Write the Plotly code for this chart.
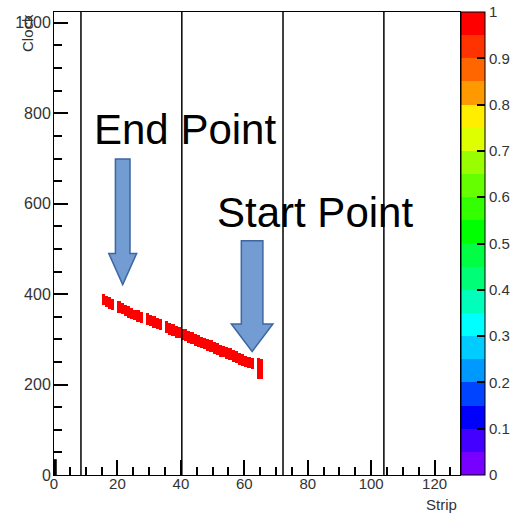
import plotly.graph_objects as go

# ---------------- data ----------------
band_strips = [15, 16, 17, 18, 20, 21, 22, 23, 24, 25, 26, 27, 29, 30, 31, 32, 33,
               35, 36, 37, 38, 39, 40, 41, 42, 43, 44, 45, 46, 47, 48, 49, 50, 51,
               52, 53, 54, 55, 56, 57, 58, 59, 60, 61, 62, 64, 65]
band_low = [376, 372, 368, 365, 358, 356, 352, 349, 345, 342, 339, 336, 332, 330, 327,
            324, 321, 314, 311, 308, 305, 302, 298, 296, 293, 290, 287, 284, 281, 278,
            275, 272, 269, 266, 263, 260, 257, 254, 251, 248, 245, 242, 239, 236, 234,
            212, 212]
band_high = [400, 397, 394, 391, 384, 381, 377, 374, 371, 367, 364, 361, 358, 355, 352,
             349, 346, 340, 337, 334, 331, 328, 325, 322, 319, 316, 313, 310, 307, 304,
             301, 298, 295, 292, 289, 286, 283, 280, 277, 274, 271, 268, 265, 262, 259,
             258, 256]
band_value = 1.0

line_strips = [8.5, 40.3, 72.2, 104.0]
corner_strip = [0.4, 0.4]
corner_clock = [0, 35]

x_tick_vals = [0, 20, 40, 60, 80, 100, 120]
y_tick_vals = [0, 200, 400, 600, 800, 1000]
cb_tick_vals = [0, 0.1, 0.2, 0.3, 0.4, 0.5, 0.6, 0.7, 0.8, 0.9, 1.0]
cb_tick_text = ["0", "0.1", "0.2", "0.3", "0.4", "0.5", "0.6", "0.7", "0.8", "0.9", "1"]

palette = ["#7700FF", "#4400FF", "#0000FF", "#0044FF", "#0099FF", "#00CCFF",
           "#00FFFF", "#00FFBB", "#00FF77", "#00FF44", "#00FF00", "#33FF00",
           "#66FF00", "#99FF00", "#DDFF00", "#FFEE00", "#FF9900", "#FF6600",
           "#FF3300", "#FF0000"]

N_STRIP = 128
N_CLOCK = 1024
CLOCK_BIN = 2

# ---------------- build histogram ----------------
x_edges = list(range(N_STRIP + 1))
y_edges = list(range(0, N_CLOCK + 1, CLOCK_BIN))
z = [[None] * N_STRIP for _ in range(len(y_edges) - 1)]
for s, lo, hi in zip(band_strips, band_low, band_high):
    for j in range(lo // CLOCK_BIN, hi // CLOCK_BIN):
        z[j][s] = band_value

n = len(palette)
colorscale = []
for i, c in enumerate(palette):
    colorscale.append([i / n, c])
    colorscale.append([(i + 1) / n, c])

FONT = "Liberation Sans, Arial, sans-serif"

fig = go.Figure()

for xs in line_strips:
    fig.add_trace(go.Scatter(x=[xs, xs], y=[0, N_CLOCK], mode="lines",
                             line=dict(color="black", width=1.5),
                             hoverinfo="skip", showlegend=False))
fig.add_trace(go.Scatter(x=corner_strip, y=corner_clock, mode="lines",
                         line=dict(color="black", width=3),
                         hoverinfo="skip", showlegend=False))

fig.add_trace(go.Heatmap(
    x=x_edges, y=y_edges, z=z, zmin=0, zmax=1, colorscale=colorscale,
    hoverinfo="skip", zsmooth=False,
    colorbar=dict(
        x=1.0025, xanchor="left", xpad=0, ypad=0, y=0.5, yanchor="middle",
        len=1, lenmode="fraction", thickness=24, thicknessmode="pixels",
        outlinecolor="black", outlinewidth=1,
        ticks="inside", ticklen=8, tickcolor="black", tickwidth=1.5,
        tickvals=cb_tick_vals, ticktext=cb_tick_text,
        tickfont=dict(family=FONT, size=15, color="#333"),
    ),
))

# ---------------- annotation arrows ----------------
def block_arrow(tip_x, tip_y, shaft_top, head_base, shaft_half, head_half):
    return (f"M {tip_x - shaft_half} {shaft_top} L {tip_x + shaft_half} {shaft_top} "
            f"L {tip_x + shaft_half} {head_base} L {tip_x + head_half} {head_base} "
            f"L {tip_x} {tip_y} L {tip_x - head_half} {head_base} "
            f"L {tip_x - shaft_half} {head_base} Z")

arrow_fill = "#739CD2"
arrow_line = "#3E66A3"
fig.add_shape(type="path", xref="x", yref="y",
              path=block_arrow(21.66, 421, 699, 490, 2.3, 4.4),
              fillcolor=arrow_fill, line=dict(color=arrow_line, width=1.5))
fig.add_shape(type="path", xref="x", yref="y",
              path=block_arrow(62.46, 273, 518, 334, 3.4, 6.55),
              fillcolor=arrow_fill, line=dict(color=arrow_line, width=1.5))

L, R, T, B = 54, 50, 12, 40
W, H = 510, 515
PW, PH = W - L - R, H - T - B


def px_x(p):
    return (p - L) / PW


def px_y(p):
    return (H - B - p) / PH


annotations = [
    dict(text="End Point", x=px_x(185), y=px_y(130), xref="paper", yref="paper",
         showarrow=False, xanchor="center", yanchor="middle",
         font=dict(family=FONT, size=42, color="black")),
    dict(text="Start Point", x=px_x(315), y=px_y(212.5), xref="paper", yref="paper",
         showarrow=False, xanchor="center", yanchor="middle",
         font=dict(family=FONT, size=42, color="black")),
    dict(text="Clock", x=px_x(27), y=1, xref="paper", yref="paper",
         showarrow=False, xanchor="center", yanchor="top", textangle=-90,
         font=dict(family=FONT, size=15, color="#333")),
    dict(text="Strip", x=px_x(459), y=px_y(504), xref="paper", yref="paper",
         showarrow=False, xanchor="right", yanchor="middle",
         font=dict(family=FONT, size=15, color="#333")),
]

fig.update_layout(
    width=W, height=H,
    margin=dict(l=L, r=R, t=T, b=B, pad=0, autoexpand=False),
    paper_bgcolor="white", plot_bgcolor="white",
    showlegend=False,
    annotations=annotations,
    xaxis=dict(range=[0, N_STRIP], showgrid=False, zeroline=False,
               showline=True, linecolor="black", linewidth=1, mirror=True,
               ticks="inside", ticklen=15, tickwidth=1.5, tickcolor="black",
               tickvals=x_tick_vals, ticklabelstandoff=-5,
               minor=dict(dtick=5, tick0=0, ticks="inside", ticklen=8,
                          tickwidth=1.5, tickcolor="black", showgrid=False),
               tickfont=dict(family=FONT, size=15, color="#333")),
    yaxis=dict(range=[0, N_CLOCK], showgrid=False, zeroline=False,
               showline=True, linecolor="black", linewidth=1, mirror=True,
               ticks="inside", ticklen=14, tickwidth=1.5, tickcolor="black",
               tickvals=y_tick_vals, ticklabelstandoff=-1,
               minor=dict(dtick=50, tick0=0, ticks="inside", ticklen=8,
                          tickwidth=1.5, tickcolor="black", showgrid=False),
               tickfont=dict(family=FONT, size=16, color="#333")),
)

fig.write_html("out.html")
